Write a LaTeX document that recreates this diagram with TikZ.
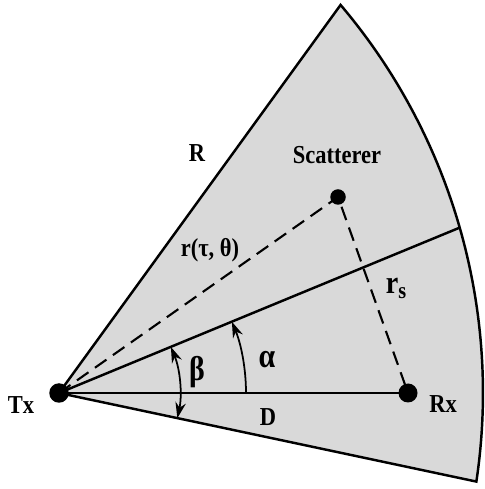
\documentclass[tikz,border=0pt]{standalone}
\usepackage{fontspec}
\usepackage{graphicx}
\setmainfont{Liberation Serif}
\usetikzlibrary{arrows.meta,calc}
\newcommand{\vstretch}[1]{\scalebox{1}[1.15]{#1}}
\begin{document}
\begin{tikzpicture}[x=0.02cm,y=0.02cm,
  edge/.style={line width=1.4pt},
  dashline/.style={line width=1.2pt, dash pattern=on 8pt off 4.5pt},
  lbl/.style={font=\fontsize{12.8}{14}\selectfont\bfseries, inner sep=0pt},
  glbl/.style={font=\fontsize{17}{19}\selectfont\bfseries, inner sep=0pt},
  dot/.style={circle, fill=black, inner sep=0pt},
  angarc/.style={line width=1pt},
  tip/.style={}]
\useasboundingbox (0,0) rectangle (484,489);
\coordinate (C) at (-117,96);
\coordinate (TX) at (59,96);
\coordinate (top) at ($(C)+(40.3:600)$);
\coordinate (bot) at ($(C)+(-8.5:600)$);
\coordinate (mid) at ($(C)+(16:600)$);
\filldraw[fill=gray!30, edge, line join=miter] (TX) -- (top) arc[start angle=40.3, end angle=-8.5, radius=12cm] -- cycle;
\node[dot, minimum size=0.39cm] (tx) at (TX) {};
\node[dot, minimum size=0.38cm] (rx) at (408,96) {};
\node[dot, minimum size=0.31cm] (sc) at (338,292) {};
\draw[edge] (tx.center) -- (mid);
\draw[edge] (tx.center) -- (rx.center);
\draw[dashline] (tx.center) -- (sc.center) -- (rx.center);
\coordinate (b1) at ($(TX)+(-12:121)$);
\coordinate (a1) at ($(TX)+(0:187)$);
\draw[angarc, {Stealth[length=9pt,width=6pt]}-{Stealth[length=9pt,width=6pt]}] (b1) arc[start angle=-12, end angle=22.4, radius=2.42cm];
\draw[angarc, -{Stealth[length=9pt,width=6pt]}] (a1) arc[start angle=0, end angle=22.4, radius=3.74cm];
\node[lbl] (ltx) at (21,84) {\vstretch{Tx}};
\node[lbl] (lrx) at (443,85) {\vstretch{Rx}};
\node[lbl] (lD) at (268,72) {\vstretch{D}};
\node[glbl] (lalpha) at (267,129) {\vstretch{α}};
\node[glbl] (lbeta) at (197,117) {\vstretch{β}};
\node[lbl] (lR) at (197,336) {\vstretch{R}};
\node[lbl] (lsc) at (337,334) {\vstretch{Scatterer}};
\node[lbl] (lr) at (210,239) {\vstretch{r(τ, θ)}};
\node[lbl] (lrs) at (396,201) {\vstretch{{\fontsize{16}{18}\selectfont r}\raisebox{-2.5pt}{\fontsize{11.5}{12}\selectfont s}}};
\end{tikzpicture}
\end{document}
